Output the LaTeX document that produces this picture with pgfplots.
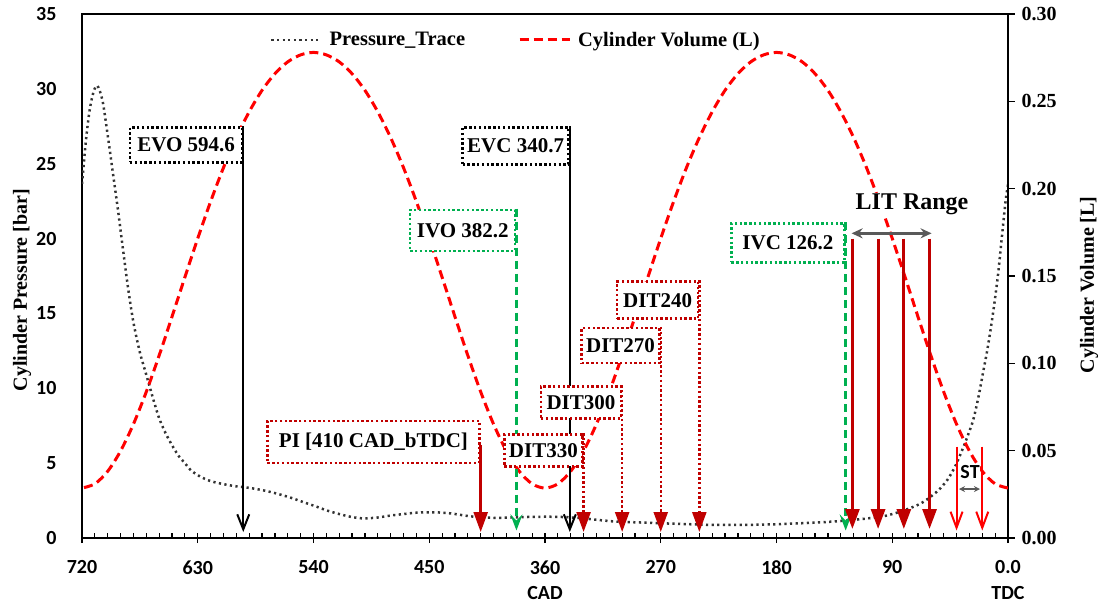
\documentclass[border=0pt]{standalone}
\usepackage{fontspec}
\setmainfont{Liberation Serif}
\newfontfamily\calfont{Carlito}
\usepackage{pgfplots}
\pgfplotsset{compat=1.18}
\usetikzlibrary{arrows.meta}

\definecolor{darkred}{HTML}{C00000}
\definecolor{valvegreen}{HTML}{00B050}
\definecolor{rangegray}{HTML}{595959}
\definecolor{tracegray}{HTML}{333333}

\newcommand\annfont{\bfseries\fontsize{21}{25}\selectfont}
\newcommand\tickfont{\calfont\bfseries\fontsize{20}{25.5}\selectfont}

\pgfplotsset{
  chartbase/.style={
    scale only axis, width=926pt, height=524pt,
    at={(0pt,0pt)}, anchor=south west,
    xmin=0, xmax=720, x dir=reverse,
  },
  pstyle/.style={tracegray, line width=2.5pt, dash pattern=on 2.2pt off 3.4pt},
  vstyle/.style={red, line width=3pt, dash pattern=on 9pt off 5pt},
}
\tikzset{
  tbox/.style={draw=#1, fill=white, line width=2.4pt,
    dash pattern=on 2.4pt off 2.4pt, inner sep=0pt,
    anchor=north east, font=\annfont},
}

\begin{document}
\begin{tikzpicture}
\useasboundingbox (-82pt,-67pt) rectangle (1017pt,538pt);

% cylinder pressure (left axis)
\begin{axis}[chartbase,
  ymin=0, ymax=35, ytick={0,5,...,35},
  axis line style={line width=1.4pt},
  xtick={0,90,...,720},
  xticklabels={{0.0\\TDC},90,180,270,{360\\CAD},450,540,630,720},
  minor x tick num=8,
  xtick pos=left, ytick pos=left,
  xtick align=center, ytick align=outside,
  major tick length=10pt, minor tick length=5pt,
  every tick/.style={black, line width=1.2pt},
  minor x tick style={yshift=2.5pt},
  ytick style={draw=none},
  xticklabel style={font=\tickfont, align=center, yshift=-14pt},
  yticklabel style={font=\tickfont, xshift=-12pt},
  /pgf/number format/assume math mode=true,
  ylabel={Cylinder Pressure [bar]},
  ylabel style={font=\bfseries\fontsize{20}{24}\selectfont,
    at={(axis description cs:-0.0648,0.473)}, anchor=center},
]
\addplot[pstyle, smooth] coordinates {
(0,23.6) (2,22.4) (5,19.9) (8,17.4) (12,14.8) (16,12.6) (19.5,11.0)
(23,9.4) (27,7.9) (31,6.9) (35,6.0) (41,4.8) (47,3.9) (54,3.2) (61,2.7)
(68,2.3) (76,2.0) (86,1.7) (97,1.45) (110,1.3) (128,1.15) (145,1.05)
(162,0.98) (180,0.92) (200,0.88) (226,0.87) (240,0.9) (265,0.97)
(278,1.01) (290,1.05) (304,1.09) (318,1.2) (330,1.31) (343,1.39)
(356,1.42) (370,1.41) (383,1.38) (395,1.35) (408,1.37) (420,1.47)
(434,1.65) (447,1.72) (460,1.69) (470,1.6) (480,1.5) (490,1.37)
(501,1.31) (510,1.4) (520,1.6) (530,1.85) (537.5,2.09) (548,2.4)
(558,2.7) (570,3.0) (580,3.2) (590,3.35) (600,3.45) (610,3.6) (620,3.8)
(628,4.1) (635,4.5) (640,5.0) (645,5.5) (650,6.2) (655,7.0) (660,8.0)
(664,9.1) (667,10.0) (671,11.2) (675,12.4) (680,14.4) (684,16.6)
(688,19.2) (692,21.9) (696,24.4) (700,26.9) (704,29.2) (708,30.2)
(711,29.8) (714,28.6) (717,26.5) (720,23.6)
};
\end{axis}

% cylinder volume (right axis)
\begin{axis}[chartbase,
  ymin=0, ymax=0.30, ytick={0,0.05,0.1,0.15,0.2,0.25,0.3},
  axis y line*=right, axis x line=none,
  axis line style={line width=1.4pt},
  ytick align=outside, major tick length=7pt,
  every tick/.style={black, line width=1.2pt},
  yticklabel style={font=\bfseries\fontsize{20}{24}\selectfont, xshift=3pt},
  /pgf/number format/.cd, fixed, fixed zerofill, precision=2, assume math mode=true,
  /pgfplots/.cd,
  ylabel={Cylinder Volume [L]},
  ylabel style={font=\bfseries\fontsize{20}{24}\selectfont,
    at={(axis description cs:1.0875,0.483)}, anchor=center},
]
\addplot[vstyle, smooth] coordinates {
(0,0.0286) (10,0.0310) (20,0.0382) (30,0.0498) (40,0.0652) (50,0.0837)
(60,0.1045) (70,0.1267) (80,0.1493) (90,0.1715) (100,0.1926) (110,0.2120)
(120,0.2292) (130,0.2440) (140,0.2563) (150,0.2658) (160,0.2726)
(170,0.2766) (180,0.2780) (190,0.2766) (200,0.2726) (210,0.2658)
(220,0.2563) (230,0.2440) (240,0.2292) (250,0.2120) (260,0.1926)
(270,0.1715) (280,0.1493) (290,0.1267) (300,0.1045) (310,0.0837)
(320,0.0652) (330,0.0498) (340,0.0382) (350,0.0310) (360,0.0286)
(370,0.0310) (380,0.0382) (390,0.0498) (400,0.0652) (410,0.0837)
(420,0.1045) (430,0.1267) (440,0.1493) (450,0.1715) (460,0.1926)
(470,0.2120) (480,0.2292) (490,0.2440) (500,0.2563) (510,0.2658)
(520,0.2726) (530,0.2766) (540,0.2780) (550,0.2766) (560,0.2726)
(570,0.2658) (580,0.2563) (590,0.2440) (600,0.2292) (610,0.2120)
(620,0.1926) (630,0.1715) (640,0.1493) (650,0.1267) (660,0.1045)
(670,0.0837) (680,0.0652) (690,0.0498) (700,0.0382) (710,0.0310)
(720,0.0286)
};
\end{axis}

% valve events, injection timings and legend (pressure units)
\begin{axis}[chartbase, ymin=0, ymax=35, hide axis, clip=false,
  legend style={at={(0.203,0.9504)}, anchor=west, draw=none, fill=none,
    font=\bfseries\fontsize{20.5}{24}\selectfont,
    legend columns=2, inner sep=0pt,
    nodes={inner sep=0pt},
    /tikz/every odd column/.append style={column sep=7pt},
    /tikz/every even column/.append style={column sep=53pt}},
  legend image code/.code={\draw[#1] (0pt,0pt) -- (50pt,0pt);},
]
\addlegendimage{pstyle}
\addlegendentry{Pressure\_Trace}
\addlegendimage{vstyle}
\addlegendentry{Cylinder Volume (L)}

% exhaust valve events
\addplot[forget plot, black, line width=2pt, -{Straight Barb[length=15pt,width=12pt]}]
  coordinates {(594.6,27.5) (594.6,0.4)};
\addplot[forget plot, black, line width=2pt, -{Straight Barb[length=15pt,width=12pt]}]
  coordinates {(340.7,27.5) (340.7,0.4)};
% intake valve events
\addplot[forget plot, valvegreen, line width=2.5pt, dash pattern=on 8pt off 5pt,
  -{Stealth[length=16pt,width=12pt,inset=6pt]}]
  coordinates {(382.2,22.0) (382.2,0.5)};
\addplot[forget plot, valvegreen, line width=2.5pt, dash pattern=on 8pt off 5pt,
  -{Stealth[length=16pt,width=12pt,inset=6pt]}]
  coordinates {(126.2,21.1) (126.2,0.5)};
% direct injection timings
\addplot[forget plot, darkred, line width=2.4pt, dash pattern=on 2.4pt off 2.4pt,
  -{Triangle[length=20pt,width=14pt]}] coordinates {(330,7.0) (330,0.4)};
\addplot[forget plot, darkred, line width=2.4pt, dash pattern=on 2.4pt off 2.4pt,
  -{Triangle[length=20pt,width=14pt]}] coordinates {(300,10.2) (300,0.4)};
\addplot[forget plot, darkred, line width=2.4pt, dash pattern=on 2.4pt off 2.4pt,
  -{Triangle[length=20pt,width=14pt]}] coordinates {(270,14.1) (270,0.4)};
\addplot[forget plot, darkred, line width=2.4pt, dash pattern=on 2.4pt off 2.4pt,
  -{Triangle[length=20pt,width=14pt]}] coordinates {(240,17.2) (240,0.4)};
% late injection timings
\addplot[forget plot, darkred, line width=3pt, -{Triangle[length=20pt,width=14pt]}]
  coordinates {(121,20.0) (121,0.6)};
\addplot[forget plot, darkred, line width=3pt, -{Triangle[length=20pt,width=14pt]}]
  coordinates {(101,20.0) (101,0.6)};
\addplot[forget plot, darkred, line width=3pt, -{Triangle[length=20pt,width=14pt]}]
  coordinates {(81,20.0) (81,0.6)};
\addplot[forget plot, darkred, line width=3pt, -{Triangle[length=20pt,width=14pt]}]
  coordinates {(61,20.0) (61,0.6)};
% spark timings
\addplot[forget plot, red, line width=2pt, -{Straight Barb[length=16pt,width=12pt]}]
  coordinates {(40,6.1) (40,0.5)};
\addplot[forget plot, red, line width=2pt, -{Straight Barb[length=16pt,width=12pt]}]
  coordinates {(20,6.1) (20,0.5)};
% ranges
\addplot[forget plot, rangegray, line width=2.5pt,
  {Stealth[length=11pt,width=10pt]}-{Stealth[length=11pt,width=10pt]}]
  coordinates {(121.6,20.35) (59.4,20.35)};
\addplot[forget plot, rangegray, line width=1.6pt,
  {Stealth[length=6pt,width=6pt]}-{Stealth[length=6pt,width=6pt]}]
  coordinates {(38.1,3.27) (21.8,3.27)};

% event boxes
\node[tbox=black, minimum width=112pt, minimum height=35pt] at (axis cs:594.6,27.5) {EVO 594.6};
\node[tbox=black, minimum width=106pt, minimum height=37pt] at (axis cs:340.7,27.5) {EVC 340.7};
\node[tbox=valvegreen, minimum width=105pt, minimum height=41pt] at (axis cs:382.2,22.0) {IVO 382.2};
\node[tbox=valvegreen, minimum width=113pt, minimum height=39pt] at (axis cs:126.2,21.1) {IVC 126.2};
\node[tbox=darkred, minimum width=78pt, minimum height=32pt] at (axis cs:330,7.0) {DIT330};
\node[tbox=darkred, minimum width=80pt, minimum height=32pt] at (axis cs:300,10.2) {DIT300};
\node[tbox=darkred, minimum width=78pt, minimum height=35pt] at (axis cs:270,14.1) {DIT270};
\node[tbox=darkred, minimum width=81pt, minimum height=37pt] at (axis cs:240,17.2) {DIT240};
\node[tbox=darkred, minimum width=212pt, minimum height=42pt] at (axis cs:410,7.9) {PI [410 CAD\_bTDC]};
\addplot[forget plot, darkred, line width=2.5pt, -{Triangle[length=20pt,width=14pt]}]
  coordinates {(410,6.2) (410,0.4)};

\node[fill=white, inner sep=1pt, font=\bfseries\fontsize{24}{24}\selectfont]
  at (axis cs:74.6,22.3) {LIT Range};
\node[fill=white, inner sep=0.5pt, font=\calfont\bfseries\fontsize{20}{20}\selectfont]
  at (axis cs:29.5,4.43) {ST};
\end{axis}
\end{tikzpicture}
\end{document}
